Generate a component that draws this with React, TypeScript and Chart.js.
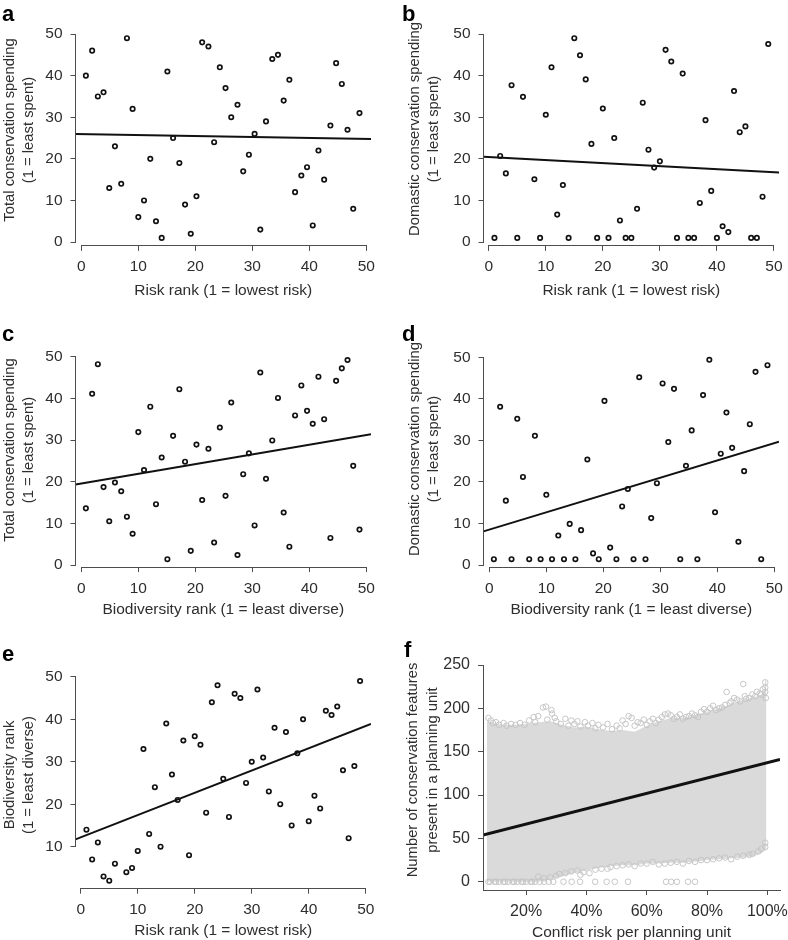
import React, { useEffect, useRef } from 'react';
import { Chart, registerables } from 'chart.js';

Chart.register(...registerables);

const FONT = '"Liberation Sans", Arial, Helvetica, sans-serif';
const TEXT = '#2e2e2e';
const AXIS = '#4d4d4d';

// ---------- data ----------
// rank positions (x) of the 48 countries
const rankSpread = [0.8, 1.9, 2.9, 3.9, 4.9, 5.9, 7.0, 8.0, 9.0, 10.0, 11.0, 12.1, 13.1, 14.1, 15.1, 16.1, 17.2, 18.2, 19.2, 20.2, 21.2, 22.3, 23.3, 24.3, 25.3, 26.3, 27.4, 28.4, 29.4, 30.4, 31.4, 32.4, 33.5, 34.5, 35.5, 36.5, 37.5, 38.6, 39.6, 40.6, 41.6, 42.6, 43.7, 44.7, 45.7, 46.7, 47.7, 48.8];
const rankWithGap = [1, 2, 3, 4, 5, 6, 8, 9, 10, 11, 12, 13, 14, 15, 16, 17, 18, 19, 20, 21, 22, 23, 24, 25, 26, 27, 28, 29, 30, 31, 32, 33, 34, 35, 36, 37, 38, 39, 40, 41, 42, 43, 44, 45, 46, 47, 48, 49];

// a: total conservation spending vs risk rank
const totalSpendByRisk = [40, 46, 35, 36, 13, 23, 14, 49, 32, 6, 10, 20, 5, 1, 41, 25, 19, 9, 2, 11, 48, 47, 24, 42, 37, 30, 33, 17, 21, 26, 3, 29, 44, 45, 34, 39, 12, 16, 18, 4, 22, 15, 28, 43, 38, 27, 8, 31];
// b: domestic conservation spending vs risk rank
const domesticSpendByRisk = [1, 20.7, 16.5, 37.7, 1, 34.9, 15.1, 1, 30.6, 42, 6.6, 13.7, 1, 49, 44.9, 39.1, 23.6, 1, 32.1, 1, 25, 5.2, 1, 1, 8, 33.5, 22.2, 17.9, 19.4, 46.2, 43.4, 1, 40.5, 1, 1, 9.4, 29.3, 12.3, 1, 3.8, 2.4, 36.3, 26.4, 27.8, 1, 1, 10.9, 47.6];
// c: total conservation spending vs biodiversity rank
const totalSpendByBio = [13.6, 41.1, 48.2, 18.7, 10.5, 19.8, 17.7, 11.6, 7.5, 31.9, 22.8, 38, 14.6, 25.8, 1.4, 31, 42.2, 24.8, 3.4, 28.9, 15.6, 27.9, 5.4, 33, 16.6, 39, 2.4, 21.8, 26.8, 9.5, 46.2, 20.7, 29.9, 40.1, 12.6, 4.4, 35.9, 43.1, 37, 33.9, 45.2, 35, 6.5, 44.2, 47.2, 49.2, 23.8, 8.5];
// d: domestic conservation spending vs biodiversity rank
const domesticSpendByBio = [1.4, 38.1, 15.5, 1.4, 35.2, 21.2, 1.4, 31.1, 1.4, 16.9, 1.4, 7.1, 1.4, 9.9, 1.4, 8.4, 25.4, 2.8, 1.4, 39.5, 4.2, 1.4, 14.1, 18.3, 1.4, 45.2, 1.4, 11.3, 19.7, 43.7, 29.6, 42.4, 1.4, 23.9, 32.4, 1.4, 40.9, 49.4, 12.7, 26.8, 36.7, 28.2, 5.6, 22.6, 33.9, 46.5, 1.4, 48.1];
// e: biodiversity rank vs risk rank
const bioByRisk = [14, 7, 11, 3, 2, 6, 4, 5, 9, 33, 13, 24, 10, 39, 27, 21, 35, 8, 36, 34, 18, 44, 48, 26, 17, 46, 45, 25, 30, 47, 31, 23, 38, 20, 37, 15, 32, 40, 16, 22, 19, 42, 41, 43, 28, 12, 29, 49];

// fitted regression lines (values at the two ends of each x range)
const fitAX = [-1.02, 50.82], fitAY = [25.96, 24.76];
const fitBX = [-0.92, 50.92], fitBY = [20.5, 16.7];
const fitCX = [-1.02, 50.82], fitCY = [19.3, 31.4];
const fitDX = [-1.02, 50.82], fitDY = [8.1, 29.7];
const fitEX = [-0.92, 50.92], fitEY = [11.74, 38.9];
const fitFX = [5.7, 104.2], fitFY = [54.0, 141.1];

// f: envelope of the dense cloud of planning units
const cloudX = [7, 9, 12, 16, 20, 24, 28, 32, 36, 40, 44, 48, 52, 56, 60, 64, 68, 72, 76, 80, 84, 88, 92, 96, 98, 99, 99.2, 99.7];
const cloudTop = [185, 183, 181, 181, 182, 184, 185, 181, 178, 179, 176, 174, 175, 173, 180, 185, 189, 189, 192, 196, 200, 205, 210, 213, 216, 220, 232, 232];
const cloudBottom = [0, 0, 0, 0, 0, 0, 3, 6, 10, 13, 16, 18, 19, 19, 21, 21, 22, 22, 23, 25, 26, 27, 28, 30, 33, 36, 36, 38];
// f: scattered planning units around the edges of the dense cloud
const outlierX = [7.5, 8.3, 10, 12.5, 15, 18, 21, 22.5, 24, 25.6, 26.6, 28.4, 28.6, 30, 33, 35, 37, 39.5, 42, 44, 47, 50, 52, 54, 55, 57, 59, 61, 63, 66, 67, 68, 70, 72, 74, 76, 78, 79, 81, 83, 85, 86.5, 88, 90, 92, 93, 95, 96, 97.5, 98.5,
  9, 11, 13.5, 16.5, 19.5, 23, 27, 29.5, 31.5, 34, 36, 38, 40.5, 43, 45.5, 48.5, 51, 53, 56, 58, 60, 62, 64, 65, 69, 71, 73, 75, 77, 80, 82, 84, 86, 87.5, 89, 91, 92.5, 94, 96.5, 98, 99.3, 99.3, 99.3, 99.5,
  7.5, 8, 9.5, 10, 11, 12.5, 13, 14, 15.5, 16, 17, 18.5, 19, 20, 21.5, 22, 23, 24.5, 26, 27.5, 29, 32.4, 35.1, 37.9, 42.9, 46.7, 49.4, 53.8, 66.4, 68.1, 70, 73.7, 76,
  24, 26, 28, 30, 31, 33, 35, 37, 38, 39, 41, 43, 45, 47, 48, 50, 52, 54, 56, 58, 60, 62, 64, 66, 68, 70, 72, 74, 76, 78, 80, 82, 84, 86, 88, 90, 92, 94, 95, 97, 98, 99.3, 99.3];
const outlierY = [189, 186, 184, 183, 182, 183, 186, 190, 191, 201, 202, 198, 194, 185, 188, 186, 185, 184, 183, 181, 182, 180, 186, 191, 189, 184, 187, 185, 183, 193, 194, 192, 190, 188, 191, 192, 196, 199, 200, 198, 201, 219, 208, 210, 228, 211, 216, 214, 217, 222,
  183, 181, 180, 181, 181, 184, 187, 189, 182, 180, 182, 179, 180, 177, 178, 176, 177, 182, 180, 183, 181, 188, 187, 190, 188, 193, 190, 194, 190, 196, 203, 200, 204, 206, 212, 208, 214, 212, 219, 216, 230, 224, 219, 212,
  0, 0, 0, 0, 0, 0, 0, 0, 0, 0, 0, 0, 0, 0, 0, 0, 0, 0, 0, 0, 0, 0, 0, 0, 0, 0, 0, 0, 0, 0, 0, 0, 0,
  6, 4, 5, 7, 9, 10, 12, 13, 8, 11, 10, 14, 15, 15, 17, 18, 19, 20, 18, 21, 21, 23, 20, 21, 22, 23, 21, 24, 23, 25, 25, 26, 27, 28, 26, 29, 30, 31, 32, 35, 38, 40, 45];

// tick values
const rankTicks = [0, 10, 20, 30, 40, 50];
const bioRankTicks = [10, 20, 30, 40, 50];
const riskPctTicks = [20, 40, 60, 80, 100];
const featureTicks = [0, 50, 100, 150, 200, 250];

// ---------- helpers ----------
const pts = (xs: number[], ys: number[]) => xs.map((x, i) => ({ x, y: ys[i] }));

const fitLine = (xs: number[], ys: number[], width: number) => ({
  type: 'line' as const,
  data: pts(xs, ys),
  borderColor: '#111',
  borderWidth: width,
  pointRadius: 0,
  fill: false,
  tension: 0,
  order: 0,
});

const rings = (xs: number[], ys: number[]) => ({
  type: 'scatter' as const,
  data: pts(xs, ys),
  pointRadius: 2.2,
  borderWidth: 1.7,
  borderColor: '#111',
  backgroundColor: 'rgba(0,0,0,0)',
  clip: false as const,
  order: 1,
});

type Spec = {
  letter: string;
  box: { x: number; y: number; w: number; h: number };
  area: { l: number; t: number; r: number; b: number };
  xRange: [number, number];
  yRange: [number, number];
  xTicks: number[];
  yTicks: number[];
  xFmt: (v: number) => string;
  xTitle: string;
  xTitleY: number;
  yTitle: string[];
  yTitleX: number[];
  yTitleY: number;
  letterPos: { x: number; y: number };
  fullAxes: boolean;
  tickSize: number;
  datasets: any[];
};

const plain = (v: number) => String(v);

const specs: Spec[] = [
  {
    letter: 'a',
    box: { x: 0, y: 0, w: 394, h: 320 },
    area: { l: 75.5, t: 30.2, r: 371, b: 245.9 },
    xRange: [-1.02, 50.82], yRange: [-0.92, 50.92],
    xTicks: rankTicks, yTicks: rankTicks, xFmt: plain,
    xTitle: 'Risk rank (1 = lowest risk)', xTitleY: 291,
    yTitle: ['Total conservation spending', '(1 = least spent)'], yTitleX: [10, 29], yTitleY: 130,
    letterPos: { x: 2, y: 21 }, fullAxes: false, tickSize: 15.5,
    datasets: [fitLine(fitAX, fitAY, 2), rings(rankSpread, totalSpendByRisk)],
  },
  {
    letter: 'b',
    box: { x: 394, y: 0, w: 394, h: 320 },
    area: { l: 483.5, t: 30.2, r: 779.2, b: 245.9 },
    xRange: [-0.92, 50.92], yRange: [-0.92, 50.92],
    xTicks: rankTicks, yTicks: rankTicks, xFmt: plain,
    xTitle: 'Risk rank (1 = lowest risk)', xTitleY: 291,
    yTitle: ['Domastic conservation spending', '(1 = least spent)'], yTitleX: [415, 434], yTitleY: 129,
    letterPos: { x: 402, y: 21 }, fullAxes: false, tickSize: 15.5,
    datasets: [fitLine(fitBX, fitBY, 2), rings(rankWithGap, domesticSpendByRisk)],
  },
  {
    letter: 'c',
    box: { x: 0, y: 320, w: 394, h: 320 },
    area: { l: 75.5, t: 352.1, r: 371, b: 567.1 },
    xRange: [-1.02, 50.82], yRange: [-0.5, 51.1],
    xTicks: rankTicks, yTicks: rankTicks, xFmt: plain,
    xTitle: 'Biodiversity rank (1 = least diverse)', xTitleY: 610,
    yTitle: ['Total conservation spending', '(1 = least spent)'], yTitleX: [10, 29], yTitleY: 450,
    letterPos: { x: 2, y: 341 }, fullAxes: false, tickSize: 15.5,
    datasets: [fitLine(fitCX, fitCY, 2), rings(rankSpread, totalSpendByBio)],
  },
  {
    letter: 'd',
    box: { x: 394, y: 320, w: 394, h: 320 },
    area: { l: 483.5, t: 351.8, r: 779, b: 567.2 },
    xRange: [-1.02, 50.82], yRange: [-0.52, 51.32],
    xTicks: rankTicks, yTicks: rankTicks, xFmt: plain,
    xTitle: 'Biodiversity rank (1 = least diverse)', xTitleY: 610,
    yTitle: ['Domastic conservation spending', '(1 = least spent)'], yTitleX: [415, 434], yTitleY: 449,
    letterPos: { x: 402, y: 341 }, fullAxes: false, tickSize: 15.5,
    datasets: [fitLine(fitDX, fitDY, 2), rings(rankSpread, domesticSpendByBio)],
  },
  {
    letter: 'e',
    box: { x: 0, y: 640, w: 394, h: 300 },
    area: { l: 75.5, t: 673, r: 371, b: 888.7 },
    xRange: [-0.92, 50.92], yRange: [0.12, 50.88],
    xTicks: rankTicks, yTicks: bioRankTicks, xFmt: plain,
    xTitle: 'Risk rank (1 = lowest risk)', xTitleY: 931,
    yTitle: ['Biodiversity rank', '(1 = least diverse)'], yTitleX: [10, 29], yTitleY: 775,
    letterPos: { x: 2, y: 661 }, fullAxes: false, tickSize: 15.5,
    datasets: [fitLine(fitEX, fitEY, 2), rings(rankWithGap, bioByRisk)],
  },
  {
    letter: 'f',
    box: { x: 394, y: 640, w: 394, h: 300 },
    area: { l: 483, t: 665, r: 780, b: 890 },
    xRange: [5.7, 104.2], yRange: [-9.5, 250],
    xTicks: riskPctTicks, yTicks: featureTicks, xFmt: (v: number) => v + '%',
    xTitle: 'Conflict risk per planning unit', xTitleY: 933,
    yTitle: ['Number of conservation features', 'present in a planning unit'], yTitleX: [413, 433], yTitleY: 770,
    letterPos: { x: 404, y: 657 }, fullAxes: true, tickSize: 16,
    datasets: [
      fitLine(fitFX, fitFY, 3),
      {
        type: 'scatter',
        data: pts(outlierX, outlierY),
        pointRadius: 2.8,
        borderWidth: 1,
        borderColor: '#c6c6c6',
        backgroundColor: 'rgba(0,0,0,0)',
        clip: false,
        order: 1,
      },
      {
        type: 'line',
        data: pts(cloudX, cloudTop),
        borderWidth: 0,
        borderColor: 'rgba(0,0,0,0)',
        backgroundColor: '#dadada',
        pointRadius: 0,
        tension: 0,
        fill: '+1',
        order: 2,
      },
      {
        type: 'line',
        data: pts(cloudX, cloudBottom),
        borderWidth: 0,
        borderColor: 'rgba(0,0,0,0)',
        pointRadius: 0,
        tension: 0,
        fill: false,
        order: 3,
      },
    ],
  },
];

function buildConfig(s: Spec): any {
  const { box, area } = s;
  const align = (p: number) => Math.round(p - 0.5) + 0.5;
  const decor = {
    id: 'decor',
    afterDraw(chart: any) {
      const ctx = chart.ctx as CanvasRenderingContext2D;
      const ca = chart.chartArea;
      const xs = chart.scales.x;
      const ys = chart.scales.y;
      ctx.save();
      // axis lines
      ctx.strokeStyle = AXIS;
      ctx.lineWidth = 1;
      let x0: number, x1: number, y0: number, y1: number;
      if (s.fullAxes) {
        x0 = ca.left; x1 = ca.right;
        y0 = ys.getPixelForValue(s.yTicks[s.yTicks.length - 1]); y1 = ca.bottom;
      } else {
        x0 = xs.getPixelForValue(s.xTicks[0]); x1 = xs.getPixelForValue(s.xTicks[s.xTicks.length - 1]);
        y0 = ys.getPixelForValue(s.yTicks[s.yTicks.length - 1]); y1 = ys.getPixelForValue(s.yTicks[0]);
      }
      const yb = align(ca.bottom);
      const xl = align(ca.left);
      ctx.beginPath();
      ctx.moveTo(align(x0) - 0.5, yb);
      ctx.lineTo(align(x1) + 0.5, yb);
      ctx.moveTo(xl, align(y0) - 0.5);
      ctx.lineTo(xl, align(y1) + 0.5);
      ctx.stroke();
      // panel letter
      ctx.fillStyle = '#000';
      ctx.font = `bold 22px ${FONT}`;
      ctx.textAlign = 'left';
      ctx.textBaseline = 'alphabetic';
      ctx.fillText(s.letter, s.letterPos.x - box.x, s.letterPos.y - box.y);
      // x title
      ctx.fillStyle = TEXT;
      ctx.font = `15.5px ${FONT}`;
      ctx.textAlign = 'center';
      ctx.textBaseline = 'middle';
      ctx.fillText(s.xTitle, (ca.left + ca.right) / 2, s.xTitleY - box.y);
      // y title
      ctx.font = `14.8px ${FONT}`;
      s.yTitle.forEach((line, i) => {
        ctx.save();
        ctx.translate(s.yTitleX[i] - box.x, s.yTitleY - box.y);
        ctx.rotate(-Math.PI / 2);
        ctx.fillText(line, 0, 0);
        ctx.restore();
      });
      ctx.restore();
    },
  };

  const gridOpts = { display: true, drawOnChartArea: false, drawTicks: true, tickLength: 5, color: AXIS, lineWidth: 1 };

  return {
    type: 'scatter',
    data: { datasets: s.datasets },
    options: {
      animation: false,
      responsive: false,
      devicePixelRatio: 1,
      events: [],
      layout: {
        padding: { left: 0, top: area.t - box.y, right: box.x + box.w - area.r, bottom: 0 },
      },
      plugins: { legend: { display: false }, tooltip: { enabled: false } },
      scales: {
        x: {
          type: 'linear',
          bounds: 'data',
          min: s.xRange[0],
          max: s.xRange[1],
          afterBuildTicks: (sc: any) => { sc.ticks = s.xTicks.map((v) => ({ value: v })); },
          afterFit: (sc: any) => { sc.height = box.y + box.h - area.b; sc.paddingLeft = 0; sc.paddingRight = 0; },
          ticks: { autoSkip: false, maxRotation: 0, minRotation: 0, padding: 7, color: TEXT, font: { family: FONT, size: s.tickSize }, callback: (v: number) => s.xFmt(v) },
          grid: gridOpts,
          border: { display: false },
          title: { display: false },
        },
        y: {
          type: 'linear',
          bounds: 'data',
          min: s.yRange[0],
          max: s.yRange[1],
          afterBuildTicks: (sc: any) => { sc.ticks = s.yTicks.map((v) => ({ value: v })); },
          afterFit: (sc: any) => { sc.width = area.l - box.x; sc.paddingTop = 0; sc.paddingBottom = 0; },
          ticks: { autoSkip: false, padding: 8, color: TEXT, font: { family: FONT, size: s.tickSize }, callback: (v: number) => String(v) },
          grid: gridOpts,
          border: { display: false },
          title: { display: false },
        },
      },
    },
    plugins: [decor],
  };
}

function Panel({ spec }: { spec: Spec }) {
  const ref = useRef<HTMLCanvasElement>(null);
  useEffect(() => {
    if (!ref.current) return;
    const chart = new Chart(ref.current, buildConfig(spec));
    return () => chart.destroy();
  }, [spec]);
  const { x, y, w, h } = spec.box;
  return (
    <canvas
      ref={ref}
      width={w}
      height={h}
      style={{ position: 'absolute', left: x, top: y, width: w, height: h, display: 'block' }}
    />
  );
}

export default function App() {
  return (
    <div style={{ position: 'absolute', left: 0, top: 0, width: 788, height: 940, overflow: 'hidden', background: '#fff' }}>
      {specs.map((s) => (
        <Panel key={s.letter} spec={s} />
      ))}
    </div>
  );
}
